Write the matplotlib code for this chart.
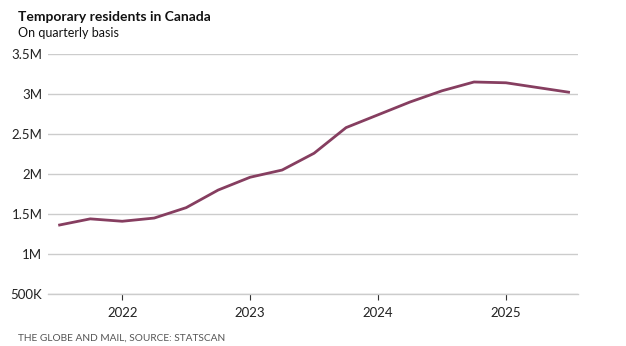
import matplotlib
matplotlib.use("Agg")
import matplotlib.pyplot as plt
from matplotlib.ticker import FuncFormatter

# quarterly data, 2021 Q3 .. 2025 Q3 (millions)
quarters = [2021.5, 2021.75, 2022.0, 2022.25, 2022.5, 2022.75, 2023.0, 2023.25,
            2023.5, 2023.75, 2024.0, 2024.25, 2024.5, 2024.75, 2025.0, 2025.25, 2025.5]
residents = [1.36, 1.44, 1.41, 1.45, 1.58, 1.80, 1.96, 2.05,
             2.26, 2.58, 2.74, 2.90, 3.04, 3.15, 3.14, 3.08, 3.02]
year_ticks = [2022, 2023, 2024, 2025]
y_ticks = [0.5, 1.0, 1.5, 2.0, 2.5, 3.0, 3.5]

plt.rcParams['font.family'] = ['Lato', 'DejaVu Sans']

fig = plt.figure(figsize=(6.26, 3.46), dpi=100)
ax = fig.add_axes([0.0767, 0.150, 0.846, 0.694])

ax.plot(quarters, residents, color='#863e60', lw=2.0, solid_capstyle='butt', zorder=3)

def fmt(v, _):
    if v < 1:
        return f"{int(round(v * 1000))}K"
    return f"{v:g}M"

ax.set_yticks(y_ticks)
ax.yaxis.set_major_formatter(FuncFormatter(fmt))
ax.set_ylim(0.5, 3.5)
ax.set_xlim(2021.42, 2025.56)
ax.set_xticks(year_ticks)
ax.set_xticklabels([str(y) for y in year_ticks])

ax.grid(axis='y', color='#cccccc', lw=1)
ax.set_axisbelow(True)
for s in ['top', 'right', 'left']:
    ax.spines[s].set_visible(False)
ax.spines['bottom'].set_color('#cccccc')
ax.spines['bottom'].set_linewidth(1)
ax.tick_params(axis='y', length=0, pad=4, labelsize=9.5, labelcolor='#222222')
ax.tick_params(axis='x', length=4, width=0.8, color='#333333', pad=5,
               labelsize=9.5, labelcolor='#222222')

fig.text(18 / 626, 1 - 17 / 346, "Temporary residents in Canada", fontsize=10,
         fontweight='bold', color='#111111', va='center', ha='left')
fig.text(18 / 626, 1 - 33 / 346, "On quarterly basis", fontsize=9,
         color='#111111', va='center', ha='left')
fig.text(18 / 626, 1 - 338 / 346, "THE GLOBE AND MAIL, SOURCE: STATSCAN", fontsize=7.3,
         color='#555555', va='center', ha='left')

fig.savefig("out.png", dpi=100)
